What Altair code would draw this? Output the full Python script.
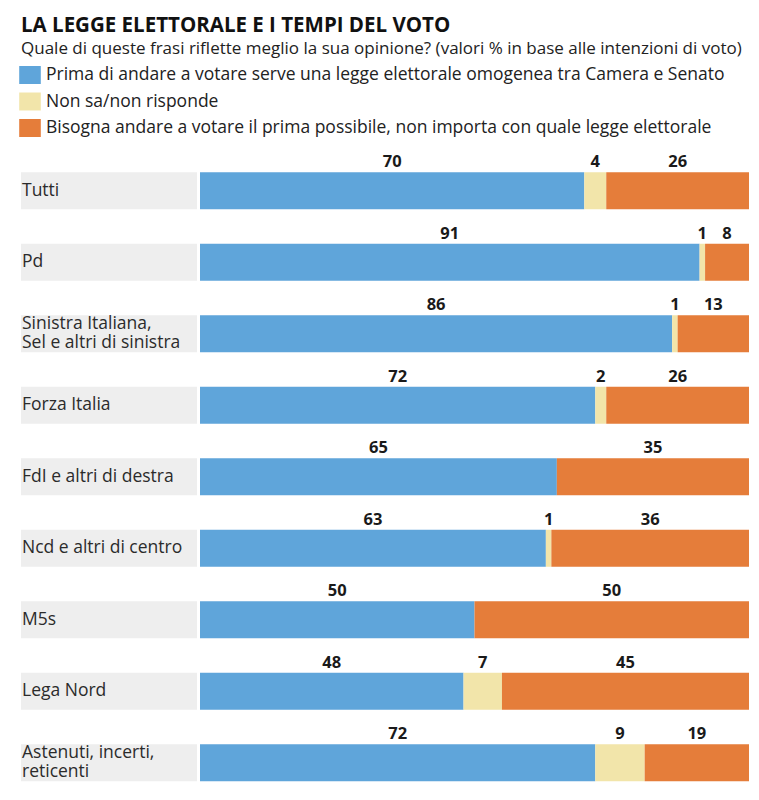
import altair as alt
import pandas as pd

categories = [
    "Tutti",
    "Pd",
    "Sinistra Italiana,\nSel e altri di sinistra",
    "Forza Italia",
    "FdI e altri di destra",
    "Ncd e altri di centro",
    "M5s",
    "Lega Nord",
    "Astenuti, incerti,\nreticenti",
]
series = [
    "Prima di andare a votare serve una legge elettorale omogenea tra Camera e Senato",
    "Non sa/non risponde",
    "Bisogna andare a votare il prima possibile, non importa con quale legge elettorale",
]
legge_omogenea = [70, 91, 86, 72, 65, 63, 50, 48, 72]
non_sa = [4, 1, 1, 2, 0, 1, 0, 7, 9]
votare_subito = [26, 8, 13, 26, 35, 36, 50, 45, 19]
colors = ["#5FA5DA", "#F2E5AA", "#E57D3A"]

rows = []
for i, cat in enumerate(categories):
    for k, vals in enumerate([legge_omogenea, non_sa, votare_subito]):
        rows.append({"cat": cat, "serie": series[k], "value": vals[i], "order": k})
df = pd.DataFrame(rows)
cat_df = pd.DataFrame({"cat": categories})

FONT = "Open Sans"
BAR_H = 37
LBL = 17.5
xscale = alt.Scale(domain=[0, 100], range=[179, 728])
yenc = alt.Y("cat:N", sort=categories, axis=None,
             scale=alt.Scale(paddingInner=0, paddingOuter=0))

band = alt.Chart(cat_df).mark_bar(height=BAR_H, color="#EEEEEE").encode(
    x=alt.value(0), x2=alt.value(176), y=yenc
)

label_style = dict(align="left", baseline="middle", lineBreak="\n",
                   fontSize=LBL, lineHeight=19, color="#2b2b2b", font=FONT)

row_labels_1 = alt.Chart(cat_df).transform_filter(
    "indexof(datum.cat, '\\n') < 0"
).mark_text(**label_style).encode(x=alt.value(1), y=yenc, text="cat:N")

row_labels_2 = alt.Chart(cat_df).transform_filter(
    "indexof(datum.cat, '\\n') >= 0"
).mark_text(dy=-9.5, **label_style).encode(x=alt.value(1), y=yenc, text="cat:N")

bars = alt.Chart(df).mark_bar(height=BAR_H).encode(
    x=alt.X("value:Q", stack="zero", scale=xscale, axis=None),
    y=yenc,
    color=alt.Color(
        "serie:N",
        scale=alt.Scale(domain=series, range=colors),
        legend=alt.Legend(
            title=None, orient="none", legendX=0, legendY=-89,
            symbolType="M-1.2,-1H1.2V1H-1.2Z", symbolSize=324,
            symbolStrokeWidth=0, symbolOpacity=1,
            labelFontSize=LBL, labelFont=FONT, labelColor="#222222",
            labelLimit=0, labelOffset=7, rowPadding=8.5, padding=0,
        ),
    ),
    order=alt.Order("order:Q"),
)

values = alt.Chart(df).transform_stack(
    stack="value", groupby=["cat"], as_=["v0", "v1"],
    sort=[alt.SortField("order")]
).transform_calculate(
    mid="(datum.v0 + datum.v1) / 2"
).transform_filter("datum.value > 0").mark_text(
    fontWeight="bold", fontSize=16.5, dy=-28.5, baseline="middle",
    color="#1a1a1a", font=FONT
).encode(x=alt.X("mid:Q", scale=xscale), y=yenc, text="value:Q")

chart = alt.layer(band, row_labels_1, row_labels_2, bars, values).properties(
    width=728,
    height=alt.Step(71.5),
    title=alt.TitleParams(
        text="LA LEGGE ELETTORALE E I TEMPI DEL VOTO",
        subtitle="Quale di queste frasi riflette meglio la sua opinione? (valori % in base alle intenzioni di voto)",
        anchor="start", frame="group", font=FONT, fontSize=20.5,
        fontWeight="bold", color="#111111",
        subtitleFont=FONT, subtitleFontSize=17, subtitleColor="#222222",
        subtitlePadding=5, offset=9,
    ),
    padding={"left": 21, "top": 155, "right": 10, "bottom": 0},
    autosize=alt.AutoSizeParams(type="none"),
).configure(background="white").configure_view(stroke=None)

chart.save("out.html", embed_options={"renderer": "svg", "actions": False})
